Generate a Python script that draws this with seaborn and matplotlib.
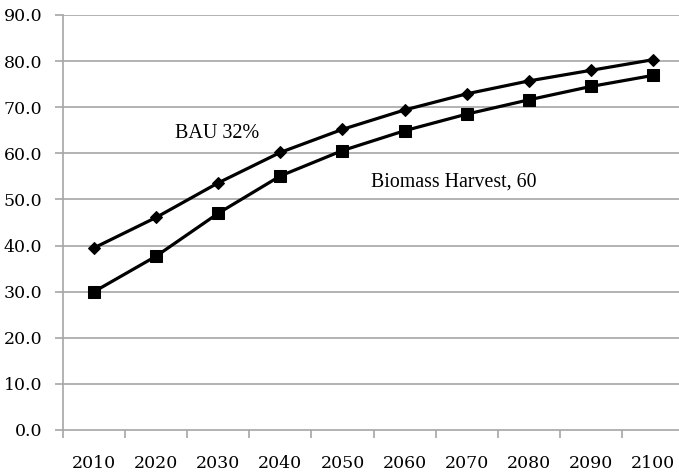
import matplotlib
matplotlib.use("Agg")
import matplotlib.pyplot as plt
import seaborn as sns
import pandas as pd
from matplotlib.ticker import FixedLocator, NullFormatter

years = ["2010", "2020", "2030", "2040", "2050", "2060", "2070", "2080", "2090", "2100"]
bau = [39.5, 46.1, 53.6, 60.2, 65.2, 69.4, 72.9, 75.7, 78.0, 80.3]
biomass = [30.0, 37.7, 47.0, 55.1, 60.6, 64.9, 68.5, 71.6, 74.5, 76.9]
y_ticks = [0, 10, 20, 30, 40, 50, 60, 70, 80, 90]

sns.set_theme(style="white")
plt.rcParams["font.family"] = ["DejaVu Serif"]

fig = plt.figure(figsize=(6.79, 4.72), dpi=100)
ax = fig.add_axes([63/679, 42/472, 621/679, 415/472])

df = pd.DataFrame({"year": years, "BAU": bau, "Biomass": biomass})
sns.lineplot(data=df, x="year", y="BAU", ax=ax, color="black", lw=2.3,
             marker="D", markersize=6.5, markeredgecolor="black", sort=False)
sns.lineplot(data=df, x="year", y="Biomass", ax=ax, color="black", lw=2.3,
             marker="s", markersize=8.5, markeredgecolor="black", sort=False)

grid_c = "#a6a6a6"
ax.set_ylim(0, 90)
ax.set_yticks(y_ticks)
ax.set_yticklabels([f"{v:.1f}" for v in y_ticks])
for v in y_ticks[1:]:
    ax.axhline(v, color=grid_c, lw=1.2, zorder=0)

n = len(years)
ax.set_xlim(-0.5, n - 0.5)
ax.xaxis.set_major_locator(FixedLocator([i - 0.5 for i in range(n + 1)]))
ax.xaxis.set_major_formatter(NullFormatter())
ax.xaxis.set_minor_locator(FixedLocator(list(range(n))))
ax.set_xticklabels(years, minor=True)
ax.tick_params(axis="x", which="major", length=6, width=1.2, color=grid_c, direction="out")
ax.tick_params(axis="x", which="minor", length=0, pad=18, labelsize=12.5, labelcolor="black")
ax.tick_params(axis="y", length=6, width=1.2, color=grid_c, direction="out", pad=9,
               labelsize=12.5, labelcolor="black")
ax.tick_params(bottom=True, left=True)

for s in ["top", "right"]:
    ax.spines[s].set_visible(False)
for s in ["left", "bottom"]:
    ax.spines[s].set_color(grid_c)
    ax.spines[s].set_linewidth(1.2)

ax.set_xlabel("")
ax.set_ylabel("")

ax.text(1.98, 64.4, "BAU 32%", ha="center", va="center", fontsize=14.5,
        family=["Liberation Serif"], color="black")
ax.text(5.80, 53.8, "Biomass Harvest, 60", ha="center", va="center", fontsize=14.3,
        family=["Liberation Serif"], color="black")

fig.savefig("out.png", dpi=100)
